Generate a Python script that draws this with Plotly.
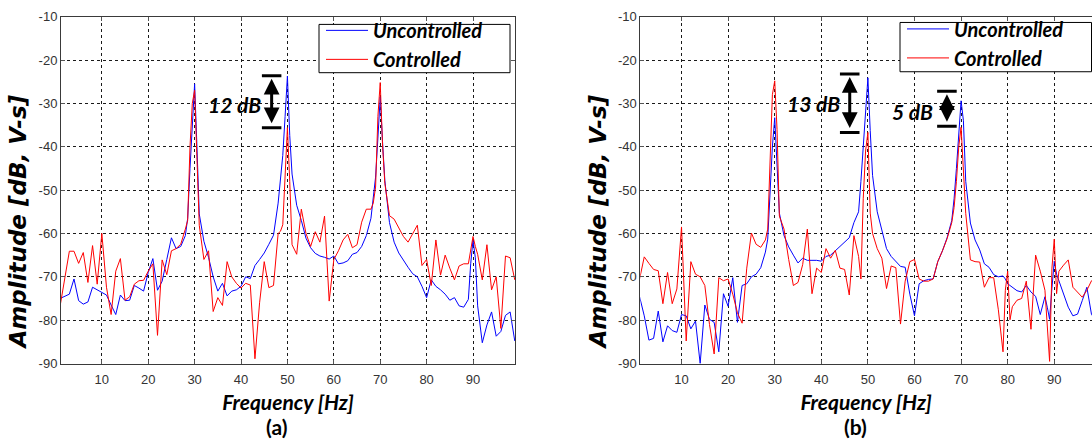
import plotly.graph_objects as go

# ---------------- data ----------------
freq_a = [1, 2, 3, 4, 5, 6, 7, 8, 9, 10,
          11, 12, 13, 14, 15, 16, 17, 18, 19, 20,
          21, 22, 23, 24, 25, 26, 27, 28, 28.5, 29,
          29.5, 30, 30.5, 31, 32, 33, 34, 35, 36, 37,
          38, 39, 40, 41, 42, 43, 44, 45, 46, 47,
          48, 48.5, 49, 49.5, 50, 50.5, 51, 52, 53, 54,
          55, 56, 57, 58, 59, 60, 61, 62, 63, 64,
          65, 66, 67, 68, 68.5, 69, 69.5, 70, 70.5, 71,
          72, 73, 74, 75, 76, 77, 78, 79, 80, 81,
          82, 83, 84, 85, 86, 87, 88, 89, 89.5, 90,
          90.5, 91, 92, 93, 94, 95, 96, 97, 98, 99]
unc_a = [-75, -74.5, -74, -70.5, -75.5, -76.3, -75.8, -72.4, -73, -73.5,
         -74.2, -76.5, -78.7, -74.2, -75.5, -75.4, -72, -72.6, -73.3, -69,
         -65.8, -73.1, -71, -66, -61, -63.5, -63, -60.5, -56.5, -45,
         -34, -25.5, -40, -55.5, -61.8, -65.5, -70, -73.3, -71.5, -74.4,
         -73.3, -73, -72.2, -70, -70.4, -67.4, -66, -64.5, -62.5, -60.4,
         -53, -48, -42, -33, -23.7, -37.4, -46.3, -53.5, -57, -61.1,
         -63.3, -64.6, -65.2, -65.5, -65.9, -65.2, -67, -66.8, -66.3, -64.8,
         -64.4, -63, -60.5, -56.5, -52, -47, -38, -28.5, -38.9, -47.8,
         -57.5, -62, -64.5, -66.3, -67.8, -69.3, -70, -72.2, -74.8, -70.7,
         -72.2, -73, -74, -75.4, -74.8, -76.7, -77, -75.2, -67, -61.5,
         -65.6, -76.7, -85.2, -81.1, -78.1, -83.7, -82.6, -78.9, -78.1, -84.8]
ctl_a = [-76.8, -70.2, -64.1, -64.1, -66.9, -64.4, -71.3, -62.8, -71.7, -60,
         -72.4, -78.7, -68.7, -65.8, -75.4, -74.6, -71.7, -70.9, -70.8, -68.7,
         -67, -83.5, -66.1, -69.5, -64, -63.5, -62.5, -59, -57, -40,
         -30, -27, -45, -58.1, -66, -64, -78, -74.8, -76.6, -66.5,
         -70, -71.5, -72.6, -71.5, -71.9, -88.9, -76, -66.5, -72.5, -72,
         -60, -59.5, -58, -45, -35.6, -48, -62.6, -64.8, -54.4, -60,
         -63, -59.6, -62, -56, -75.6, -66, -64, -61.5, -60.2, -63.3,
         -62.6, -57.4, -54.4, -54.4, -53, -49.3, -33, -25.2, -39.6, -48.5,
         -55.9, -56.7, -58.8, -60.7, -62, -60.2, -58.1, -67.4, -66, -72,
         -61.5, -69.6, -65, -68, -70.7, -67.5, -67, -67, -64, -60.7,
         -63, -64.8, -70.7, -62.6, -73, -70, -81.9, -65.2, -65.6, -70.7]

freq_b = [1, 2, 3, 4, 5, 6, 7, 8, 9, 10,
          11, 12, 13, 14, 15, 16, 17, 18, 19, 20,
          21, 22, 23, 24, 25, 26, 27, 28, 28.5, 29,
          29.5, 30, 30.5, 31, 32, 33, 34, 35, 36, 37,
          38, 39, 40, 41, 42, 43, 44, 45, 46, 47,
          48, 48.5, 49, 49.5, 50, 50.5, 51, 52, 53, 54,
          55, 56, 57, 58, 59, 60, 61, 62, 63, 64,
          65, 66, 67, 68, 68.5, 69, 69.5, 70, 70.5, 71,
          72, 73, 74, 75, 76, 77, 78, 79, 79.5, 80,
          80.5, 81, 82, 83, 84, 85, 86, 87, 88, 88.5,
          89, 89.5, 90, 90.5, 91, 92, 93, 94, 95, 96,
          97, 98, 99]
unc_b = [-74.6, -79, -84.6, -84.2, -77.9, -85, -81.3, -82.4, -82.8, -78.7,
         -79, -82, -80.2, -90, -76.5, -79.8, -80.5, -87.3, -73.9, -76.8,
         -70.2, -80.5, -72, -71.6, -70, -69.4, -67.9, -64.3, -61.3, -50,
         -40, -33.3, -44, -55.3, -60.5, -63.1, -65, -66.8, -65.7, -66.2,
         -66.2, -66.2, -66.4, -65.3, -65, -64, -63, -62, -61, -57.5,
         -55, -48, -40, -31, -24.1, -36.3, -46.6, -55, -59.5, -63.5,
         -65.3, -66.5, -67.6, -67.8, -74, -79, -71.6, -70.9, -70.6, -70.5,
         -66.5, -64, -61, -57, -52, -45, -36, -29.4, -34, -48,
         -57.6, -61.5, -63.8, -67, -67.8, -69.5, -70, -69.8, -70.5, -71.6,
         -72, -72.4, -73.2, -73.5, -72, -73.5, -74.5, -78.7, -74.6, -77,
         -79.8, -72.6, -66.4, -69.4, -71, -74, -77, -79, -78.6, -75.5,
         -72.4, -78.7, -80]
ctl_b = [-70.5, -65.4, -66.9, -68.3, -68.6, -76.2, -69, -76.2, -72.8, -58.5,
         -84.8, -66.5, -69.4, -70, -72, -81, -87.8, -70.2, -70.9, -70.5,
         -74, -78.3, -80.7, -68, -59.9, -62.5, -63.2, -61.5, -59, -45,
         -28, -24.8, -36, -56, -59, -66, -72, -71.3, -67.2, -59,
         -73.9, -68, -69, -63.5, -65.7, -63.9, -68, -68.3, -74.2, -60.5,
         -65.3, -70.5, -52, -41, -36.7, -55.3, -60, -63.5, -65.7, -72.7,
         -67.5, -67.9, -80.9, -71, -66.5, -66, -70.5, -71, -71, -70.5,
         -66.5, -64, -61.2, -57.5, -54, -48, -40, -35.5, -45, -55.4,
         -66.1, -66.5, -66.6, -72.4, -70.2, -70.2, -77.6, -87.3, -73.1, -68.7,
         -79.9, -76.9, -75.4, -75, -71, -82.1, -65, -68.7, -73.1, -82,
         -89.5, -68, -61.3, -73.9, -68.7, -67.3, -66.1, -72.4, -73.5, -74.7,
         -73.1, -70.9, -70]

assert len(freq_a) == len(unc_a) == len(ctl_a)
assert len(freq_b) == len(unc_b) == len(ctl_b)

series_names = ["Uncontrolled", "Controlled"]
x_ticks = [10, 20, 30, 40, 50, 60, 70, 80, 90]
y_ticks = [-90, -80, -70, -60, -50, -40, -30, -20, -10]
y_tick_labels = ["-90", "-80", "-70", "-60", "-50", "-40", "-30", "-20", "-10"]
panel_labels = ["(a)", "(b)"]
x_title = "Frequency [Hz]"
y_title = "Amplitude [dB, V-s]"

# reduction markers: (panel, x, top dB, bottom dB, label, label x, label y)
markers = [
    (1, 46.6, -23.6, -35.6, "12 dB", 38.5, -30.2),
    (2, 46.1, -23.2, -36.7, "13 dB", 38.4, -30.0),
    (2, 66.96, -27.2, -35.3, "5 dB", 59.6, -31.8),
]

# ---------------- figure ----------------
W, H = 1092, 444
BLUE, RED = "#0000FF", "#FF0000"
LABEL_FONT = "Lato, 'Open Sans', sans-serif"

fig = go.Figure()
for (fx, uu, cc, xa, ya, lg) in [(freq_a, unc_a, ctl_a, "x", "y", "legend"),
                                  (freq_b, unc_b, ctl_b, "x2", "y2", "legend2")]:
    fig.add_trace(go.Scatter(x=fx, y=uu, name=series_names[0], mode="lines",
                             line=dict(color=BLUE, width=1), xaxis=xa, yaxis=ya,
                             legend=lg))
    fig.add_trace(go.Scatter(x=fx, y=cc, name=series_names[1], mode="lines",
                             line=dict(color=RED, width=1), xaxis=xa, yaxis=ya,
                             legend=lg))

y_dom = [1 - 369 / H, 1 - 10 / H]
tick_font = dict(family="Liberation Sans, Arial", size=13, color="#333333")
common_x = dict(tickvals=x_ticks, showgrid=True, gridcolor="#1a1a1a", griddash="3px,3px",
                gridwidth=1, showline=True, linecolor="#3a3a3a", linewidth=1,
                ticks="inside", ticklen=4, tickcolor="#555555", zeroline=False,
                tickfont=tick_font, ticklabelstandoff=4,
                title=dict(text=x_title, standoff=9,
                           font=dict(family=LABEL_FONT, size=21, weight="bold",
                                     style="italic", color="#000000")))
common_y = dict(tickvals=y_ticks, ticktext=y_tick_labels, range=[-90, -10], domain=y_dom,
                showgrid=True, gridcolor="#1a1a1a", griddash="3px,3px", gridwidth=1,
                showline=True, linecolor="#3a3a3a", linewidth=1, ticks="inside",
                ticklen=4, tickcolor="#555555", zeroline=False, tickfont=tick_font)

fig.update_layout(
    width=W, height=H, margin=dict(l=0, r=0, t=0, b=0),
    paper_bgcolor="white", plot_bgcolor="white",
    xaxis=dict(common_x, domain=[61 / W, 515 / W], range=[1.2, 99.05], anchor="y",
               mirror="allticks"),
    yaxis=dict(common_y, anchor="x", mirror="allticks"),
    xaxis2=dict(common_x, domain=[640.3 / W, 1.0], range=[1.15, 98.1], anchor="y2",
                mirror="allticks"),
    yaxis2=dict(common_y, anchor="x2", mirror=False),
)

legend_style = dict(bgcolor="rgba(255,255,255,0)", borderwidth=0, xanchor="left",
                    yanchor="top", itemwidth=42, tracegroupgap=0,
                    font=dict(family=LABEL_FONT, size=20, weight="bold",
                              style="italic", color="#000000"))
fig.update_layout(
    legend=dict(legend_style, x=321 / W, y=1 - 4 / H),
    legend2=dict(legend_style, x=902 / W, y=1 - 2.5 / H),
)

shapes = []
# legend frames
for (x0, x1, y0, y1) in [(319, 510, 18, 68), (900, 1091.5, 16, 67)]:
    shapes.append(dict(type="rect", xref="paper", yref="paper",
                       x0=x0 / W, x1=x1 / W, y0=1 - y1 / H, y1=1 - y0 / H,
                       line=dict(color="#000000", width=1), fillcolor="white",
                       layer="above"))

annotations = []
for (p, xc, top, bot, label, tx, ty) in markers:
    xr = "x" if p == 1 else "x2"
    yr = "y" if p == 1 else "y2"
    for yv in (top, bot):
        shapes.append(dict(type="line", xref=xr, yref=yr, x0=xc - 2.1, x1=xc + 2.1,
                           y0=yv, y1=yv, line=dict(color="#000000", width=3),
                           layer="above"))
    annotations.append(dict(xref=xr, yref=yr, axref=xr, ayref=yr, x=xc, y=top,
                            ax=xc, ay=bot, text="", showarrow=True,
                            arrowside="end+start", arrowhead=2, startarrowhead=2,
                            arrowwidth=3, arrowsize=1.05, startarrowsize=1.05,
                            standoff=3, startstandoff=3, arrowcolor="#000000"))
    annotations.append(dict(xref=xr, yref=yr, x=tx, y=ty, text=label, showarrow=False,
                            font=dict(family=LABEL_FONT, size=21, weight="bold",
                                      style="italic", color="#000000")))

# y-axis titles (placed as the reference shows them, slightly below centre)
for xc in [18, 598]:
    annotations.append(dict(xref="paper", yref="paper", x=xc / W, y=1 - 223 / H,
                            text=y_title, textangle=-90, showarrow=False,
                            xanchor="center", yanchor="middle",
                            font=dict(family="DejaVu Sans", size=23, weight="bold",
                                      style="italic", color="#000000")))

for lbl, xc in zip(panel_labels, [276, 855]):
    annotations.append(dict(xref="paper", yref="paper", x=xc / W, y=1 - 434 / H,
                            text=lbl, showarrow=False, xanchor="center", yanchor="middle",
                            font=dict(family=LABEL_FONT, size=21, weight="bold",
                                      color="#000000")))

fig.update_layout(shapes=shapes, annotations=annotations)
fig.write_html("out.html")
